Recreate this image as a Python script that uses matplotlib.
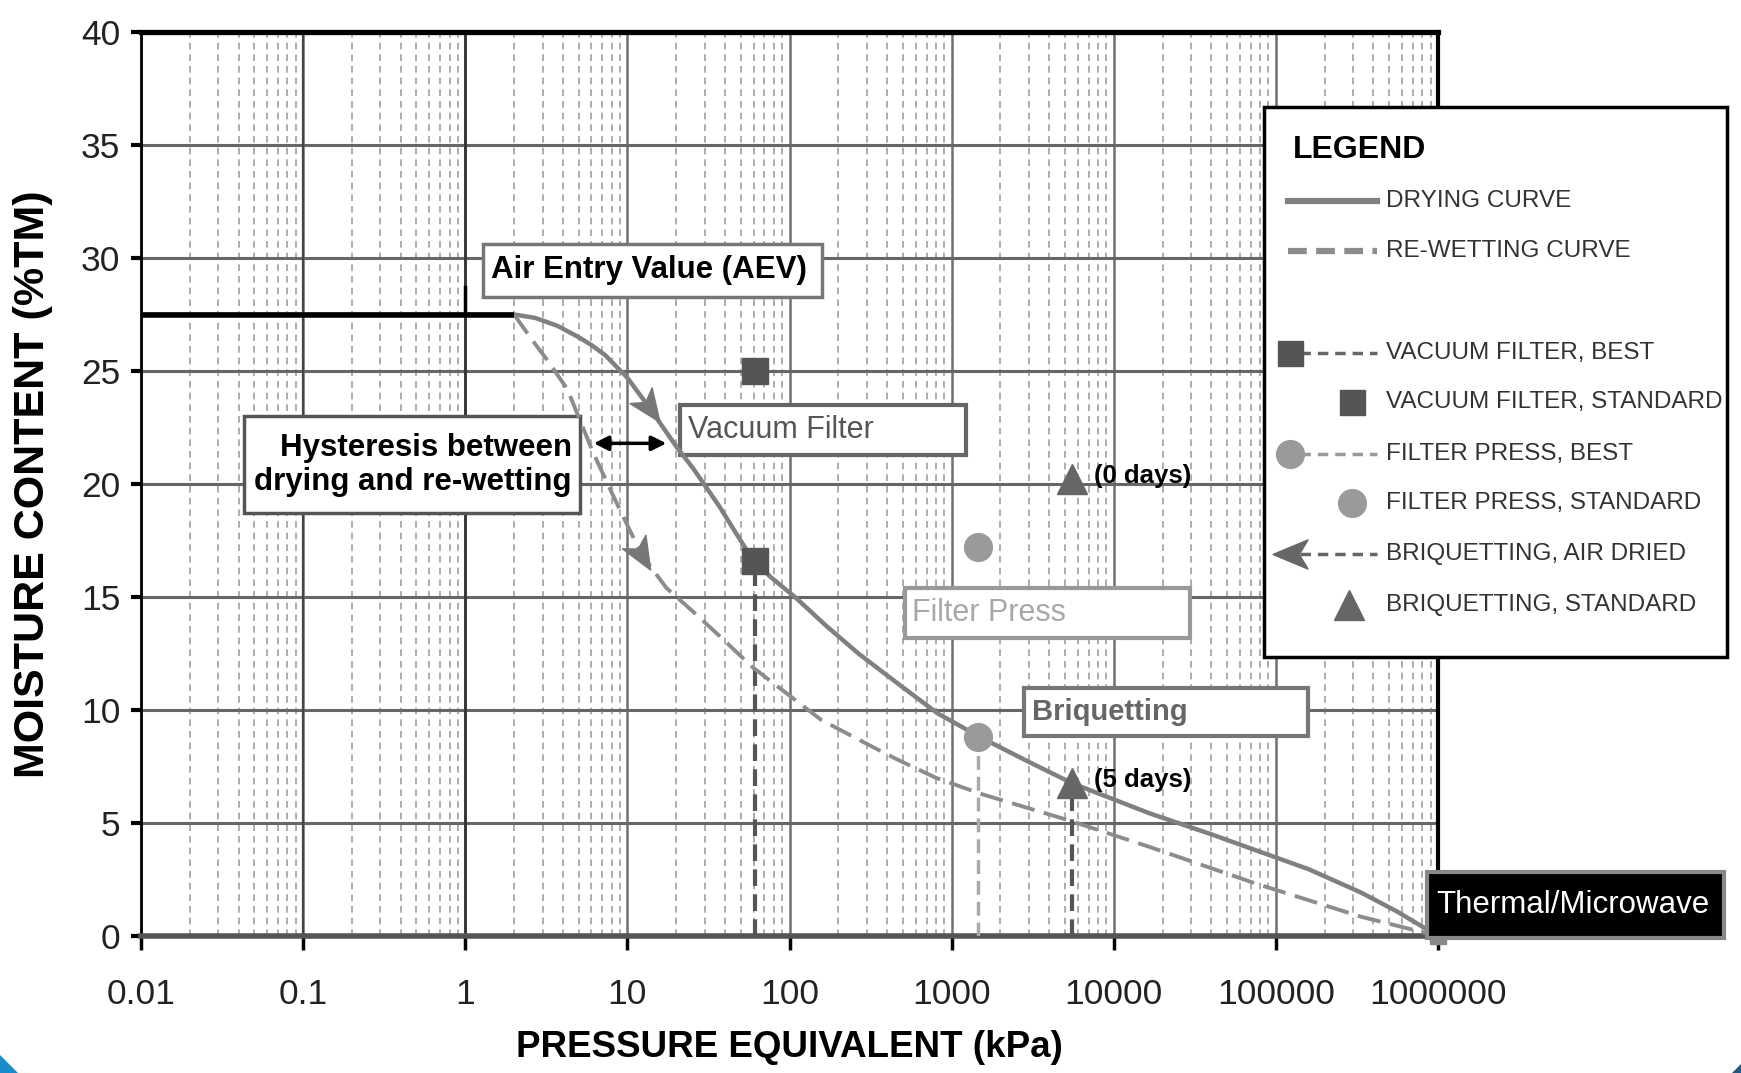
import numpy as np
import matplotlib
matplotlib.use('Agg')
import matplotlib.pyplot as plt
from matplotlib.lines import Line2D
from matplotlib.patches import Rectangle, Polygon
from matplotlib.path import Path
from matplotlib.markers import MarkerStyle
from matplotlib.transforms import Affine2D
from matplotlib.ticker import FixedLocator, FixedFormatter, LogLocator, NullFormatter

plt.rcParams['font.family'] = ['Liberation Sans', 'DejaVu Sans']

# ---- data ----
x_ticks = [0.01, 0.1, 1, 10, 100, 1000, 10000, 100000, 1000000]
x_tick_labels = ['0.01', '0.1', '1', '10', '100', '1000', '10000', '100000', '1000000']
y_ticks = [0, 5, 10, 15, 20, 25, 30, 35, 40]

drying_kpa = [0.01, 1, 2, 2.7, 3.7, 5, 6, 7.3, 10, 13.6, 20.3, 25.4, 37, 47, 58.8, 76, 108, 170,
              266, 480, 820, 1500, 3000, 5580, 16600, 40000, 74800, 160000, 336000, 560000,
              1000000]
drying_mc = [27.5, 27.5, 27.5, 27.35, 27.0, 26.5, 26.15, 25.7, 24.7, 23.4, 21.6, 20.7, 19.0, 17.8,
             16.7, 15.9, 15.0, 13.7, 12.5, 11.1, 9.85, 8.8, 7.7, 6.75, 5.43, 4.5, 3.8, 2.95,
             1.92, 1.08, 0.0]

rewet_kpa = [2, 2.57, 3.19, 4.26, 6.14, 8.4, 12.2, 17.4, 25, 38, 59, 157, 300, 450, 800, 1500,
             5380, 16500, 74500, 336000, 1000000]
rewet_mc = [27.5, 26.4, 25.5, 24.2, 21.4, 19.3, 16.9, 15.4, 14.4, 13.2, 11.9, 9.56, 8.5, 7.85,
            7.0, 6.3, 5.1, 3.95, 2.33, 0.85, 0.0]

plateau_kpa = [0.01, 2]
plateau_mc = [27.5, 27.5]
aev_kpa = [1, 1]
aev_mc = [27.5, 28.7]

# [standard, best]
vac_kpa = [61, 61]
vac_mc = [25.0, 16.6]
fp_kpa = [1450, 1450]
fp_mc = [17.2, 8.8]
briq_kpa = [5500, 5500]
briq_mc = [20.2, 6.75]
briq_days = ['(0 days)', '(5 days)']
air_dried_kpa = [13.6, 12.2]
air_dried_mc = [23.4, 16.9]
thermal_kpa = [1000000]
thermal_mc = [0.0]

W, H = 1741, 1073
fig = plt.figure(figsize=(W / 100, H / 100), dpi=100)
fig.patch.set_facecolor('white')


def fx(px):
    return px / W


def fy(py):
    return 1 - py / H


ax = fig.add_axes([fx(141), fy(936), fx(1438) - fx(141), fy(32) - fy(936)])
ax.set_xscale('log')
ax.set_xlim(0.01, 1e6)
ax.set_ylim(0, 40)

# grid
ax.xaxis.set_major_locator(FixedLocator(x_ticks))
ax.xaxis.set_major_formatter(FixedFormatter(x_tick_labels))
ax.xaxis.set_minor_locator(LogLocator(base=10, subs=np.arange(2, 10), numticks=20))
ax.xaxis.set_minor_formatter(NullFormatter())
ax.set_yticks(y_ticks)
ax.xaxis.grid(True, which='minor', color='#a0a0a0', lw=1.2, ls=(0, (4, 3)), zorder=0)
ax.xaxis.grid(True, which='major', color='#707070', lw=1.8, zorder=0)
ax.yaxis.grid(True, which='major', color='#666666', lw=2.2, zorder=0)
ax.set_axisbelow(True)
ax.axvline(1, color='#333333', lw=2, zorder=1)
ax.axvline(0.1, color='#444444', lw=1.6, zorder=1)

ax.tick_params(axis='x', which='major', length=10, width=2.5, color='black', pad=20,
               labelsize=25.5, labelcolor='#222222')
ax.tick_params(axis='x', which='minor', length=0)
ax.tick_params(axis='y', which='major', length=7, width=3, color='black', pad=8,
               labelsize=25.5, labelcolor='#222222')

for side, lw, col in [('top', 3.8, 'black'), ('left', 2, 'black'),
                      ('right', 3, 'black'), ('bottom', 4, '#555555')]:
    ax.spines[side].set_linewidth(lw)
    ax.spines[side].set_color(col)

ax.set_xlabel('PRESSURE EQUIVALENT (kPa)', fontsize=26.5, fontweight='bold', labelpad=14)
ax.set_ylabel('MOISTURE CONTENT (%TM)', fontsize=31, fontweight='bold', labelpad=20)

# curves
ax.plot(drying_kpa, drying_mc, color='#808080', lw=3.2, zorder=4, solid_joinstyle='round')
ax.plot(rewet_kpa, rewet_mc, color='#8c8c8c', lw=2.8, ls=(0, (6, 2.5)), zorder=4)
ax.plot(plateau_kpa, plateau_mc, color='black', lw=4, zorder=5, solid_capstyle='butt')
ax.plot(aev_kpa, aev_mc, color='black', lw=2.5, zorder=5)

# drop lines to axis
ax.vlines(vac_kpa[1], 0, vac_mc[1], colors='#555555', lw=3, linestyles=(0, (4, 2)), zorder=3)
ax.vlines(fp_kpa[1], 0, fp_mc[1], colors='#aaaaaa', lw=2.5, linestyles=(0, (4, 2)), zorder=3)
ax.vlines(briq_kpa[1], 0, briq_mc[1], colors='#555555', lw=3, linestyles=(0, (4, 2)), zorder=3)

# markers
ax.plot(vac_kpa, vac_mc, 's', color='#555555', ms=19, zorder=6, ls='none')
ax.plot(fp_kpa, fp_mc, 'o', color='#9a9a9a', ms=20, zorder=6, ls='none')
ax.plot(briq_kpa, briq_mc, '^', color='#666666', ms=22, zorder=6, ls='none')
ax.plot(thermal_kpa, thermal_mc, 's', color='#888888', ms=11, zorder=7, clip_on=False)
for xk, yk, lab in zip(briq_kpa, briq_mc, briq_days):
    ax.text(xk * 1.37, yk + 0.15, lab, fontsize=18.5, fontweight='bold', va='center',
            ha='left', zorder=7)

# arrowheads along the curves (air dried briquetting)
arrow_path = Path([(0, 1), (-0.75, -0.8), (0, -0.35), (0.75, -0.8), (0, 1)],
                  [Path.MOVETO, Path.LINETO, Path.LINETO, Path.LINETO, Path.CLOSEPOLY])
for xk, yk, (cx, cy) in zip(air_dried_kpa, air_dried_mc,
                            [(drying_kpa, drying_mc), (rewet_kpa, rewet_mc)]):
    lx = np.log10(cx)
    l0 = np.log10(xk)
    y1 = np.interp(l0 - 0.05, lx, cy)
    y2 = np.interp(l0 + 0.05, lx, cy)
    p1 = ax.transData.transform((10 ** (l0 - 0.05), y1))
    p2 = ax.transData.transform((10 ** (l0 + 0.05), y2))
    ang = np.degrees(np.arctan2(p2[1] - p1[1], p2[0] - p1[0])) - 90
    mk = MarkerStyle(arrow_path, transform=Affine2D().rotate_deg(ang))
    ax.plot([xk], [yk], marker=mk, color='#777777', ms=26, zorder=6, ls='none')

# hysteresis arrow
ax.annotate('', xy=(17.4, 21.8), xytext=(6.2, 21.8),
            arrowprops=dict(arrowstyle='<|-|>', color='black', lw=2.5, mutation_scale=22,
                            shrinkA=0, shrinkB=0), zorder=7)


# text boxes
def box(x0, x1, y0, y1, ec, lw=2.5):
    ax.add_patch(Rectangle((x0, y0), x1 - x0, y1 - y0, facecolor='white', edgecolor=ec,
                           lw=lw, zorder=3))


box(1.29, 158, 28.26, 30.6, '#777777')
ax.text(1.45, 29.45, 'Air Entry Value (AEV)', fontsize=22.5, fontweight='bold', va='center',
        ha='left', zorder=5)
box(0.0433, 5.07, 18.72, 23.0, '#555555')
ax.text(4.55, 20.85, 'Hysteresis between\ndrying and re-wetting', fontsize=22.5,
        fontweight='bold', va='center', ha='right', linespacing=1.15, zorder=5)
box(21.0, 1227, 21.28, 23.49, '#666666', lw=3)
ax.text(23.5, 22.4, 'Vacuum Filter', fontsize=22, color='#555555', va='center', ha='left',
        zorder=5)
box(515, 29700, 13.17, 15.38, '#999999', lw=3)
ax.text(570, 14.3, 'Filter Press', fontsize=22, color='#a8a8a8', va='center', ha='left', zorder=5)
box(2787, 158000, 8.85, 10.96, '#777777', lw=3)
ax.text(3150, 9.9, 'Briquetting', fontsize=21, fontweight='bold', color='#666666', va='center',
        ha='left', zorder=5)

# Thermal/Microwave box
fig.patches.append(Rectangle((fx(1427), fy(938)), fx(1724) - fx(1427), fy(872) - fy(938),
                             transform=fig.transFigure, facecolor='black', edgecolor='#888888',
                             lw=3, zorder=10))
fig.text(fx(1436), fy(905), 'Thermal/Microwave', color='white', fontsize=22.5, va='center',
         ha='left', zorder=11)

# legend drawn in figure pixels
fig.patches.append(Rectangle((fx(1264), fy(657)), fx(1727) - fx(1264), fy(107) - fy(657),
                             transform=fig.transFigure, facecolor='white', edgecolor='black',
                             lw=2.5, zorder=10))
fig.text(fx(1293), fy(150), 'LEGEND', fontsize=23, fontweight='bold', va='center', ha='left',
         zorder=11)
label_x = fx(1386)
rows = [
    (201, 'DRYING CURVE', dict(color='#808080', lw=4.5), None),
    (251, 'RE-WETTING CURVE', dict(color='#8c8c8c', lw=4.5, ls=(0, (3, 1.5))), None),
    (353, 'VACUUM FILTER, BEST', dict(color='#666666', lw=2.5, ls=(0, (3, 2))),
     ('s', '#555555', 1290, 18)),
    (402, 'VACUUM FILTER, STANDARD', None, ('s', '#555555', 1352, 18)),
    (454, 'FILTER PRESS, BEST', dict(color='#999999', lw=2.5, ls=(0, (3, 2))),
     ('o', '#9a9a9a', 1290, 20)),
    (503, 'FILTER PRESS, STANDARD', None, ('o', '#9a9a9a', 1352, 20)),
    (554, 'BRIQUETTING, AIR DRIED', dict(color='#666666', lw=2.5, ls=(0, (3, 2))),
     (MarkerStyle(arrow_path, transform=Affine2D().rotate_deg(90)), '#666666', 1292, 28)),
    (605, 'BRIQUETTING, STANDARD', None, ('^', '#666666', 1349, 22)),
]
for py, lab, line_kw, mk in rows:
    if line_kw is not None:
        x_start = 1288 if mk is None else 1300
        fig.add_artist(Line2D([fx(x_start), fx(1377)], [fy(py), fy(py)],
                              transform=fig.transFigure, zorder=11, **line_kw))
    if mk is not None:
        m, c, mx, ms = mk
        fig.add_artist(Line2D([fx(mx)], [fy(py)], marker=m, color=c, ms=ms, ls='none',
                              transform=fig.transFigure, zorder=12))
    fig.text(label_x, fy(py), lab, fontsize=17.5, color='#333333', va='center', ha='left',
             zorder=11)

# blue frame corners
fig.patches.append(Polygon([(0, 0), (0, 18 / H), (18 / W, 0)], closed=True,
                           transform=fig.transFigure, facecolor='#1a8ccc', edgecolor='none'))
fig.patches.append(Polygon([(1, 0), (1, 9 / H), (1 - 9 / W, 0)], closed=True,
                           transform=fig.transFigure, facecolor='#1d5a8c', edgecolor='none'))

fig.savefig('out.png', dpi=100)
